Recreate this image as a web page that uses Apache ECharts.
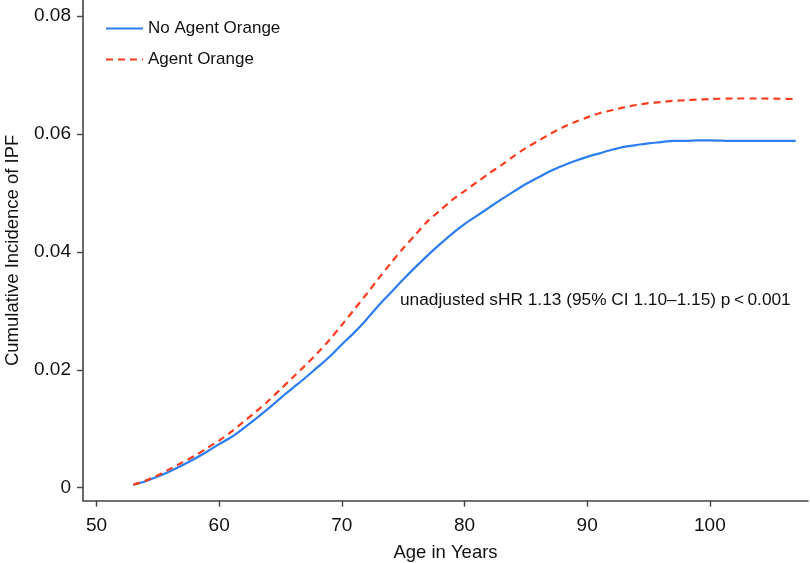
<!DOCTYPE html>
<html>
<head>
<meta charset="utf-8">
<script src="https://cdn.jsdelivr.net/npm/echarts@6/dist/echarts.min.js"></script>
<style>
html,body{margin:0;padding:0;background:#fff;}
#chart{width:810px;height:563px;}
</style>
</head>
<body>
<div id="chart"></div>
<script>
// ---- data ----
const ages = [53,54,55,56,57,58,59,60,61,62,63,64,65,66,67,68,69,70,71,72,73,74,75,76,77,78,79,80,81,82,83,84,85,86,87,88,89,90,91,92,93,94,95,96,97,98,99,100,102,104,107];
const noAgentOrange = [0.0005,0.0011,0.0019,0.0028,0.0038,0.0049,0.0061,0.0074,0.0086,0.0101,0.0117,0.0134,0.0152,0.0169,0.0186,0.0204,0.0222,0.0243,0.0263,0.0285,0.0309,0.0331,0.0353,0.0374,0.0394,0.0413,0.0431,0.0447,0.0461,0.0475,0.0489,0.0502,0.0515,0.0526,0.0537,0.0546,0.0554,0.0561,0.0567,0.0573,0.0578,0.0581,0.0584,0.0586,0.0588,0.0588,0.0589,0.0589,0.0588,0.0588,0.0588];
const agentOrange = [0.0005,0.0012,0.0021,0.0032,0.0043,0.0054,0.0067,0.0080,0.0095,0.0112,0.0129,0.0147,0.0167,0.0187,0.0207,0.0228,0.0251,0.0276,0.0302,0.0328,0.0355,0.0381,0.0406,0.0429,0.0452,0.0470,0.0488,0.0503,0.0518,0.0533,0.0547,0.0562,0.0576,0.0588,0.0600,0.0611,0.0620,0.0628,0.0635,0.0640,0.0645,0.0649,0.0652,0.0654,0.0656,0.0657,0.0658,0.0659,0.0660,0.0660,0.0659];
const xTicks = [50,60,70,80,90,100];
const yTicks = [0,0.02,0.04,0.06,0.08];
const seriesNames = ['No Agent Orange','Agent Orange'];
const annotation = 'unadjusted sHR 1.13 (95% CI 1.10\u20131.15) p\u2009<\u20090.001';
const xTitle = 'Age in Years';
const yTitle = 'Cumulative Incidence of IPF';

const FONT = '"Liberation Sans", Arial, Helvetica, sans-serif';
const chart = echarts.init(document.getElementById('chart'), null, {renderer:'canvas'});

function pairs(xs, ys){ return xs.map((x,i)=>[x, ys[i]]); }

chart.setOption({
  animation:false,
  backgroundColor:'#fff',
  grid:{left:83, right:2, top:0, bottom:62.3, containLabel:false, outerBoundsMode:'none'},
  legend:{
    orient:'vertical', left:100, top:15, itemWidth:37, itemHeight:14, itemGap:14,
    itemStyle:{opacity:0},
    textStyle:{fontFamily:FONT, fontSize:17, color:'#111'},
    data:seriesNames
  },
  xAxis:{
    type:'value', min:48.9, max:108,
    name:xTitle, nameLocation:'middle', nameGap:43,
    nameTextStyle:{fontFamily:FONT, fontSize:18.5, color:'#111'},
    axisLine:{show:true, onZero:false, lineStyle:{color:'#444', width:1.6}},
    axisTick:{show:true, length:6, lineStyle:{color:'#444', width:1.4}, customValues:xTicks},
    axisLabel:{fontFamily:FONT, fontSize:19, color:'#111', margin:16, customValues:xTicks},
    splitLine:{show:false}
  },
  yAxis:{
    type:'value', min:-0.0022, max:0.0827,
    name:yTitle, nameLocation:'middle', nameGap:61, nameRotate:90,
    nameTextStyle:{fontFamily:FONT, fontSize:18.5, color:'#111'},
    axisLine:{show:true, onZero:false, lineStyle:{color:'#444', width:1.6}},
    axisTick:{show:true, length:6, lineStyle:{color:'#444', width:1.4}, customValues:yTicks},
    axisLabel:{fontFamily:FONT, fontSize:19, color:'#111', margin:12, customValues:yTicks,
      formatter:v=> Math.abs(v)<1e-9 ? '0' : v.toFixed(2)},
    splitLine:{show:false}
  },
  series:[
    {name:seriesNames[0], type:'line', symbol:'none', smooth:0.3,
     data:pairs(ages, noAgentOrange),
     lineStyle:{color:'#2c7ef0', width:2.2}, itemStyle:{color:'#2c7ef0'}},
    {name:seriesNames[1], type:'line', symbol:'none', smooth:0.3,
     data:pairs(ages, agentOrange),
     lineStyle:{color:'#fb3c1c', width:2.2, type:[7,5]}, itemStyle:{color:'#fb3c1c'}}
  ],
  graphic:[
    {type:'text', left:400, top:292, style:{text:annotation, font:'17.3px '+FONT, fill:'#111'}}
  ]
});
</script>
</body>
</html>
